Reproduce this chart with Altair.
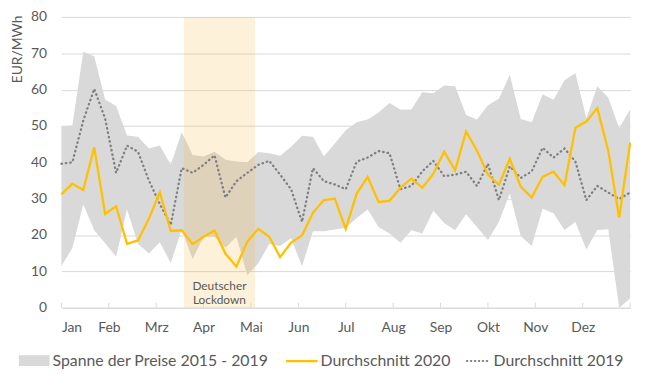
import altair as alt
import pandas as pd

# ---------------- data ----------------
weeks = list(range(1, 54))

range_upper = [49.9, 50.1, 70.4, 69.2, 57.3, 55.5, 47.4, 47.0, 43.8, 44.6,
               39.3, 48.3, 42.0, 41.6, 42.9, 40.7, 40.2, 40.0, 42.8, 42.5,
               41.8, 44.3, 47.3, 47.0, 41.6, 45.2, 48.8, 51.0, 51.8, 53.7,
               56.3, 54.5, 54.5, 59.3, 59.0, 61.1, 60.9, 53.0, 51.8, 55.7,
               57.5, 64.1, 51.9, 51.0, 58.7, 57.2, 62.6, 64.5, 52.1, 60.9,
               57.8, 49.4, 54.6]

range_lower = [11.5, 16.4, 28.4, 21.3, 17.7, 14.0, 27.0, 17.6, 14.9, 18.0,
               12.3, 21.5, 13.4, 19.5, 19.5, 16.5, 19.5, 8.9, 12.2, 17.5,
               17.0, 19.1, 11.4, 21.0, 21.0, 21.5, 22.0, 24.7, 27.0, 22.2,
               20.4, 17.9, 21.3, 20.4, 26.7, 23.3, 21.3, 25.7, 22.2, 18.6,
               23.6, 31.4, 19.7, 17.0, 27.2, 26.0, 21.4, 23.6, 16.0, 21.4,
               21.6, 0.0, 2.5]

avg_2020 = [31.2, 34.1, 32.4, 44.1, 25.8, 27.9, 17.6, 18.5, 24.5, 31.7,
            21.1, 21.3, 17.5, 19.5, 21.2, 14.9, 11.3, 18.2, 21.7, 19.5,
            13.9, 17.9, 19.9, 26.1, 29.6, 30.0, 21.7, 31.4, 36.0, 29.1,
            29.4, 33.0, 35.5, 33.0, 36.8, 42.9, 37.8, 48.5, 43.2, 36.6,
            33.8, 41.0, 33.3, 30.3, 36.0, 37.4, 33.7, 49.5, 51.2, 54.9,
            43.2, 24.8, 45.4]

avg_2019 = [39.6, 40.0, 51.5, 60.2, 52.0, 37.1, 44.6, 42.9, 35.0, 28.5,
            22.8, 38.4, 37.1, 39.3, 41.9, 30.3, 34.8, 37.1, 39.3, 40.4,
            36.6, 32.6, 23.6, 38.4, 34.8, 33.9, 32.6, 40.2, 41.3, 43.1,
            42.5, 32.6, 33.5, 37.5, 40.4, 36.2, 36.6, 37.4, 33.5, 39.6,
            29.6, 38.9, 35.7, 37.5, 44.0, 41.3, 43.8, 40.2, 29.6, 33.5,
            31.7, 29.9, 31.7]

months = ["Jan", "Feb", "Mrz", "Apr", "Mai", "Jun",
          "Jul", "Aug", "Sep", "Okt", "Nov", "Dez"]
month_ticks = [1 + k * 52 / 12 for k in range(13)]
y_ticks = [0, 10, 20, 30, 40, 50, 60, 70, 80]

lockdown_start = [12.2]
lockdown_end = [18.7]
lockdown_text = ["Deutscher", "Lockdown"]

legend_labels = ["Spanne der Preise 2015 - 2019", "Durchschnitt 2020", "Durchschnitt 2019"]

# ---------------- tables ----------------
df = pd.DataFrame({"week": weeks, "upper": range_upper, "lower": range_lower,
                   "avg2020": avg_2020, "avg2019": avg_2019})
ld = pd.DataFrame({"start": lockdown_start, "end": lockdown_end,
                   "mid": [(lockdown_start[0] + lockdown_end[0]) / 2],
                   "label": [lockdown_text]})
ticks_df = pd.DataFrame({"t": month_ticks})

W, H = 575, 294
FONT = "Lato"
TXT = "#595959"
GRAY = "#D9D9D9"
GOLD = "#FFC000"
DOT = "#7F7F7F"

month_expr = "[" + ",".join("'%s'" % m for m in months) + "]"
x_scale = alt.Scale(domain=[1, 53], nice=False, zero=False)
y_scale = alt.Scale(domain=[0, 80], nice=False)

x_axis = alt.Axis(values=month_ticks, title=None, grid=False, ticks=False,
                  domainColor=GRAY, labelColor=TXT, labelFont=FONT, labelFontSize=14,
                  labelPadding=13, labelOverlap=False,
                  labelExpr="datum.value > 52 ? '' : %s[round((datum.value - 1) * 12 / 52)]" % month_expr)
y_axis = alt.Axis(values=y_ticks, title="EUR/MWh", domain=False, ticks=False,
                  gridColor=GRAY, gridWidth=1, labelColor=TXT, labelFont=FONT,
                  labelFontSize=14, labelPadding=15, labelOverlap=False,
                  titleFont=FONT, titleFontSize=14, titleFontWeight="normal",
                  titleColor=TXT, titleAngle=270, titleAlign="right",
                  titleBaseline="middle", titleX=-44, titleY=-2)


def X(field):
    return alt.X(field, scale=x_scale, axis=x_axis)


def Y(field):
    return alt.Y(field, scale=y_scale, axis=y_axis)


band = alt.Chart(df).mark_area(color=GRAY, opacity=1).encode(
    x=X("week:Q"), y=Y("lower:Q"), y2="upper:Q",
)

lock_rect = alt.Chart(ld).mark_rect(color="#F5B946", opacity=0.2).encode(
    x=X("start:Q"), x2="end:Q",
    y=alt.value(0), y2=alt.value(H),
)

tick_marks = alt.Chart(ticks_df).mark_rule(color=GRAY, strokeWidth=1).encode(
    x=X("t:Q"), y=alt.value(H - 5), y2=alt.value(H),
)

line2019 = alt.Chart(df).mark_line(color=DOT, strokeWidth=2.3, strokeDash=[0.5, 4],
                                   strokeCap="round").encode(
    x=X("week:Q"), y=Y("avg2019:Q"))

line2020 = alt.Chart(df).mark_line(color=GOLD, strokeWidth=2.3).encode(
    x=X("week:Q"), y=Y("avg2020:Q"))

lock_label = alt.Chart(ld).mark_text(font=FONT, fontSize=12, color=TXT,
                                     align="center", baseline="middle",
                                     lineHeight=14).encode(
    x=X("mid:Q"), y=alt.value(H - 22), text="label")

# ---------------- legend (manual, below plot) ----------------
LY = 348
leg_rect = alt.Chart(pd.DataFrame({"k": [0]})).mark_rect(color=GRAY).encode(
    x=alt.value(-43), x2=alt.value(-12), y=alt.value(LY - 6), y2=alt.value(LY + 5))
leg_gold = alt.Chart(pd.DataFrame({"k": [0]})).mark_rule(color=GOLD, strokeWidth=2.3).encode(
    x=alt.value(227), x2=alt.value(259), y=alt.value(LY))
leg_dot = alt.Chart(pd.DataFrame({"k": [0]})).mark_rule(color=DOT, strokeWidth=2, strokeDash=[0.5, 3.5],
                                                        strokeCap="round").encode(
    x=alt.value(410), x2=alt.value(434), y=alt.value(LY))


def leg_text(label, xpos):
    return alt.Chart(pd.DataFrame({"t": [label]})).mark_text(
        font=FONT, fontSize=16, color=TXT, align="left", baseline="middle").encode(
        x=alt.value(xpos), y=alt.value(LY), text="t:N")


chart = alt.layer(
    band, lock_rect, tick_marks, line2019, line2020, lock_label,
    leg_rect, leg_gold, leg_dot,
    leg_text(legend_labels[0], -9),
    leg_text(legend_labels[1], 262),
    leg_text(legend_labels[2], 437),
).properties(
    width=W, height=H,
    padding={"left": 54, "top": 7, "right": 10, "bottom": 62},
    autosize=alt.AutoSizeParams(type="none"),
).configure_view(stroke="transparent")

chart.save("out.html", embed_options={"renderer": "svg", "actions": False})
